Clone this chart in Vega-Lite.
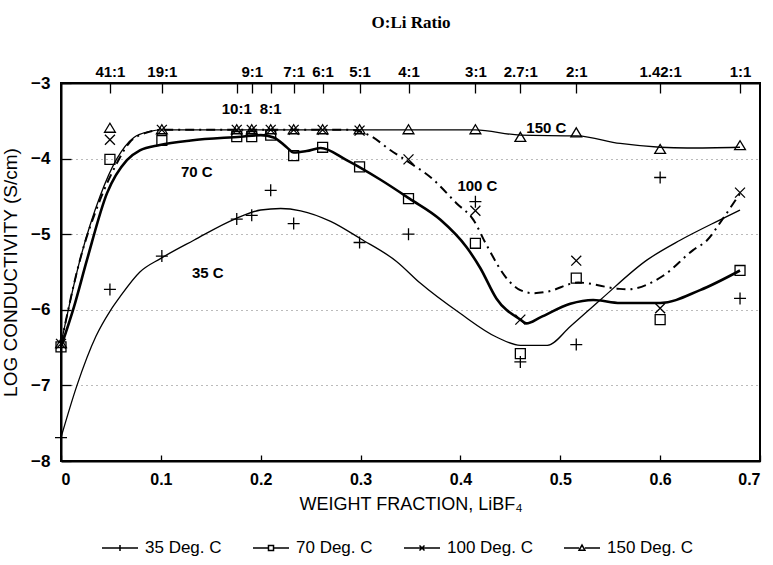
{
  "$schema": "https://vega.github.io/schema/vega-lite/v6.json",
  "width": 699,
  "height": 378,
  "autosize": {"type": "none"},
  "padding": {"left": 61, "top": 83, "right": 13, "bottom": 104},
  "background": "white",
  "view": {"stroke": "black", "strokeWidth": 2},
  "config": {
    "font": "Liberation Sans",
    "axis": {"domainColor": "black", "domainWidth": 2, "tickColor": "black", "tickWidth": 1.3, "labelColor": "black", "titleColor": "black", "labelFont": "Liberation Sans", "titleFont": "Liberation Sans"}
  },
  "datasets": {
    "points": [
      {"series": "35 Deg. C", "w": 0, "logc": -7.69},
      {"series": "35 Deg. C", "w": 0.049, "logc": -5.73},
      {"series": "35 Deg. C", "w": 0.101, "logc": -5.29},
      {"series": "35 Deg. C", "w": 0.176, "logc": -4.8},
      {"series": "35 Deg. C", "w": 0.191, "logc": -4.75},
      {"series": "35 Deg. C", "w": 0.21, "logc": -4.42},
      {"series": "35 Deg. C", "w": 0.233, "logc": -4.86},
      {"series": "35 Deg. C", "w": 0.299, "logc": -5.11},
      {"series": "35 Deg. C", "w": 0.348, "logc": -5.0},
      {"series": "35 Deg. C", "w": 0.415, "logc": -4.57},
      {"series": "35 Deg. C", "w": 0.46, "logc": -6.69},
      {"series": "35 Deg. C", "w": 0.516, "logc": -6.46},
      {"series": "35 Deg. C", "w": 0.6, "logc": -4.25},
      {"series": "35 Deg. C", "w": 0.68, "logc": -5.85},
      {"series": "70 Deg. C", "w": 0, "logc": -6.49},
      {"series": "70 Deg. C", "w": 0.049, "logc": -4.01},
      {"series": "70 Deg. C", "w": 0.101, "logc": -3.76},
      {"series": "70 Deg. C", "w": 0.176, "logc": -3.71},
      {"series": "70 Deg. C", "w": 0.191, "logc": -3.71},
      {"series": "70 Deg. C", "w": 0.21, "logc": -3.69},
      {"series": "70 Deg. C", "w": 0.233, "logc": -3.96},
      {"series": "70 Deg. C", "w": 0.262, "logc": -3.85},
      {"series": "70 Deg. C", "w": 0.299, "logc": -4.11},
      {"series": "70 Deg. C", "w": 0.348, "logc": -4.53},
      {"series": "70 Deg. C", "w": 0.415, "logc": -5.12},
      {"series": "70 Deg. C", "w": 0.46, "logc": -6.58},
      {"series": "70 Deg. C", "w": 0.516, "logc": -5.58},
      {"series": "70 Deg. C", "w": 0.6, "logc": -6.13},
      {"series": "70 Deg. C", "w": 0.68, "logc": -5.48},
      {"series": "100 Deg. C", "w": 0, "logc": -6.45},
      {"series": "100 Deg. C", "w": 0.049, "logc": -3.75},
      {"series": "100 Deg. C", "w": 0.101, "logc": -3.62},
      {"series": "100 Deg. C", "w": 0.176, "logc": -3.62},
      {"series": "100 Deg. C", "w": 0.191, "logc": -3.62},
      {"series": "100 Deg. C", "w": 0.21, "logc": -3.62},
      {"series": "100 Deg. C", "w": 0.233, "logc": -3.62},
      {"series": "100 Deg. C", "w": 0.262, "logc": -3.62},
      {"series": "100 Deg. C", "w": 0.299, "logc": -3.63},
      {"series": "100 Deg. C", "w": 0.348, "logc": -4.01},
      {"series": "100 Deg. C", "w": 0.415, "logc": -4.69},
      {"series": "100 Deg. C", "w": 0.46, "logc": -6.13},
      {"series": "100 Deg. C", "w": 0.516, "logc": -5.35},
      {"series": "100 Deg. C", "w": 0.6, "logc": -5.98},
      {"series": "100 Deg. C", "w": 0.68, "logc": -4.45},
      {"series": "150 Deg. C", "w": 0, "logc": -6.45},
      {"series": "150 Deg. C", "w": 0.049, "logc": -3.6},
      {"series": "150 Deg. C", "w": 0.101, "logc": -3.62},
      {"series": "150 Deg. C", "w": 0.176, "logc": -3.62},
      {"series": "150 Deg. C", "w": 0.191, "logc": -3.62},
      {"series": "150 Deg. C", "w": 0.21, "logc": -3.62},
      {"series": "150 Deg. C", "w": 0.233, "logc": -3.62},
      {"series": "150 Deg. C", "w": 0.262, "logc": -3.62},
      {"series": "150 Deg. C", "w": 0.299, "logc": -3.62},
      {"series": "150 Deg. C", "w": 0.348, "logc": -3.62},
      {"series": "150 Deg. C", "w": 0.415, "logc": -3.62},
      {"series": "150 Deg. C", "w": 0.46, "logc": -3.72},
      {"series": "150 Deg. C", "w": 0.516, "logc": -3.66},
      {"series": "150 Deg. C", "w": 0.6, "logc": -3.88},
      {"series": "150 Deg. C", "w": 0.68, "logc": -3.83}
    ],
    "curves": [
      {"series": "35 Deg. C", "w": 0, "logc": -7.69},
      {"series": "35 Deg. C", "w": 0.016, "logc": -7.0},
      {"series": "35 Deg. C", "w": 0.035, "logc": -6.35},
      {"series": "35 Deg. C", "w": 0.049, "logc": -6.02},
      {"series": "35 Deg. C", "w": 0.059, "logc": -5.83},
      {"series": "35 Deg. C", "w": 0.079, "logc": -5.5},
      {"series": "35 Deg. C", "w": 0.1, "logc": -5.32},
      {"series": "35 Deg. C", "w": 0.133, "logc": -5.08},
      {"series": "35 Deg. C", "w": 0.174, "logc": -4.8},
      {"series": "35 Deg. C", "w": 0.2, "logc": -4.68},
      {"series": "35 Deg. C", "w": 0.22, "logc": -4.66},
      {"series": "35 Deg. C", "w": 0.24, "logc": -4.69},
      {"series": "35 Deg. C", "w": 0.27, "logc": -4.83},
      {"series": "35 Deg. C", "w": 0.3, "logc": -5.06},
      {"series": "35 Deg. C", "w": 0.336, "logc": -5.36},
      {"series": "35 Deg. C", "w": 0.36, "logc": -5.65},
      {"series": "35 Deg. C", "w": 0.4, "logc": -6.05},
      {"series": "35 Deg. C", "w": 0.436, "logc": -6.36},
      {"series": "35 Deg. C", "w": 0.46, "logc": -6.47},
      {"series": "35 Deg. C", "w": 0.487, "logc": -6.47},
      {"series": "35 Deg. C", "w": 0.51, "logc": -6.22},
      {"series": "35 Deg. C", "w": 0.54, "logc": -5.87},
      {"series": "35 Deg. C", "w": 0.587, "logc": -5.34},
      {"series": "35 Deg. C", "w": 0.62, "logc": -5.08},
      {"series": "35 Deg. C", "w": 0.66, "logc": -4.81},
      {"series": "35 Deg. C", "w": 0.68, "logc": -4.68},
      {"series": "70 Deg. C", "w": 0, "logc": -6.49},
      {"series": "70 Deg. C", "w": 0.013, "logc": -5.96},
      {"series": "70 Deg. C", "w": 0.026, "logc": -5.34},
      {"series": "70 Deg. C", "w": 0.046, "logc": -4.46},
      {"series": "70 Deg. C", "w": 0.066, "logc": -4.02},
      {"series": "70 Deg. C", "w": 0.079, "logc": -3.89},
      {"series": "70 Deg. C", "w": 0.099, "logc": -3.82},
      {"series": "70 Deg. C", "w": 0.13, "logc": -3.76},
      {"series": "70 Deg. C", "w": 0.18, "logc": -3.71},
      {"series": "70 Deg. C", "w": 0.2, "logc": -3.69},
      {"series": "70 Deg. C", "w": 0.213, "logc": -3.72},
      {"series": "70 Deg. C", "w": 0.226, "logc": -3.85},
      {"series": "70 Deg. C", "w": 0.233, "logc": -3.92},
      {"series": "70 Deg. C", "w": 0.246, "logc": -3.9},
      {"series": "70 Deg. C", "w": 0.26, "logc": -3.86},
      {"series": "70 Deg. C", "w": 0.286, "logc": -4.02},
      {"series": "70 Deg. C", "w": 0.32, "logc": -4.28},
      {"series": "70 Deg. C", "w": 0.349, "logc": -4.53},
      {"series": "70 Deg. C", "w": 0.38, "logc": -4.81},
      {"series": "70 Deg. C", "w": 0.406, "logc": -5.17},
      {"series": "70 Deg. C", "w": 0.42, "logc": -5.45},
      {"series": "70 Deg. C", "w": 0.436, "logc": -5.85},
      {"series": "70 Deg. C", "w": 0.46, "logc": -6.13},
      {"series": "70 Deg. C", "w": 0.466, "logc": -6.18},
      {"series": "70 Deg. C", "w": 0.48, "logc": -6.1},
      {"series": "70 Deg. C", "w": 0.51, "logc": -5.92},
      {"series": "70 Deg. C", "w": 0.533, "logc": -5.87},
      {"series": "70 Deg. C", "w": 0.56, "logc": -5.91},
      {"series": "70 Deg. C", "w": 0.6, "logc": -5.91},
      {"series": "70 Deg. C", "w": 0.64, "logc": -5.74},
      {"series": "70 Deg. C", "w": 0.68, "logc": -5.48},
      {"series": "100 Deg. C", "w": 0, "logc": -6.45},
      {"series": "100 Deg. C", "w": 0.019, "logc": -5.34},
      {"series": "100 Deg. C", "w": 0.039, "logc": -4.55},
      {"series": "100 Deg. C", "w": 0.056, "logc": -4.06},
      {"series": "100 Deg. C", "w": 0.069, "logc": -3.78},
      {"series": "100 Deg. C", "w": 0.085, "logc": -3.66},
      {"series": "100 Deg. C", "w": 0.1, "logc": -3.62},
      {"series": "100 Deg. C", "w": 0.2, "logc": -3.62},
      {"series": "100 Deg. C", "w": 0.29, "logc": -3.62},
      {"series": "100 Deg. C", "w": 0.31, "logc": -3.7},
      {"series": "100 Deg. C", "w": 0.33, "logc": -3.89},
      {"series": "100 Deg. C", "w": 0.344, "logc": -4.01},
      {"series": "100 Deg. C", "w": 0.373, "logc": -4.28},
      {"series": "100 Deg. C", "w": 0.396, "logc": -4.59},
      {"series": "100 Deg. C", "w": 0.413, "logc": -4.81},
      {"series": "100 Deg. C", "w": 0.426, "logc": -5.14},
      {"series": "100 Deg. C", "w": 0.448, "logc": -5.61},
      {"series": "100 Deg. C", "w": 0.46, "logc": -5.74},
      {"series": "100 Deg. C", "w": 0.473, "logc": -5.78},
      {"series": "100 Deg. C", "w": 0.487, "logc": -5.76},
      {"series": "100 Deg. C", "w": 0.518, "logc": -5.64},
      {"series": "100 Deg. C", "w": 0.557, "logc": -5.72},
      {"series": "100 Deg. C", "w": 0.567, "logc": -5.73},
      {"series": "100 Deg. C", "w": 0.603, "logc": -5.55},
      {"series": "100 Deg. C", "w": 0.633, "logc": -5.21},
      {"series": "100 Deg. C", "w": 0.647, "logc": -5.08},
      {"series": "100 Deg. C", "w": 0.662, "logc": -4.81},
      {"series": "100 Deg. C", "w": 0.68, "logc": -4.46},
      {"series": "150 Deg. C", "w": 0, "logc": -6.45},
      {"series": "150 Deg. C", "w": 0.019, "logc": -5.34},
      {"series": "150 Deg. C", "w": 0.039, "logc": -4.5},
      {"series": "150 Deg. C", "w": 0.056, "logc": -4.0},
      {"series": "150 Deg. C", "w": 0.073, "logc": -3.72},
      {"series": "150 Deg. C", "w": 0.089, "logc": -3.64},
      {"series": "150 Deg. C", "w": 0.1, "logc": -3.62},
      {"series": "150 Deg. C", "w": 0.3, "logc": -3.62},
      {"series": "150 Deg. C", "w": 0.415, "logc": -3.62},
      {"series": "150 Deg. C", "w": 0.46, "logc": -3.69},
      {"series": "150 Deg. C", "w": 0.517, "logc": -3.7},
      {"series": "150 Deg. C", "w": 0.56, "logc": -3.8},
      {"series": "150 Deg. C", "w": 0.6, "logc": -3.85},
      {"series": "150 Deg. C", "w": 0.627, "logc": -3.86},
      {"series": "150 Deg. C", "w": 0.68, "logc": -3.85}
    ],
    "labels": [
      {"label": "70 C", "w": 0.136, "logc": -4.18},
      {"label": "35 C", "w": 0.147, "logc": -5.51},
      {"label": "100 C", "w": 0.417, "logc": -4.36},
      {"label": "150 C", "w": 0.486, "logc": -3.6},
      {"label": "10:1", "w": 0.176, "logc": -3.34},
      {"label": "8:1", "w": 0.21, "logc": -3.34}
    ],
    "ratios": [
      {"ratio": "41:1", "w": 0.049},
      {"ratio": "19:1", "w": 0.101},
      {"ratio": "10:1", "w": 0.176},
      {"ratio": "9:1", "w": 0.191},
      {"ratio": "8:1", "w": 0.21},
      {"ratio": "7:1", "w": 0.233},
      {"ratio": "6:1", "w": 0.262},
      {"ratio": "5:1", "w": 0.299},
      {"ratio": "4:1", "w": 0.348},
      {"ratio": "3:1", "w": 0.415},
      {"ratio": "2.7:1", "w": 0.46},
      {"ratio": "2:1", "w": 0.516},
      {"ratio": "1.42:1", "w": 0.6},
      {"ratio": "1:1", "w": 0.68}
    ]
  },
  "layer": [
    {
      "data": {"name": "curves"},
      "transform": [{"filter": "datum.series === '35 Deg. C'"}],
      "mark": {"type": "line", "interpolate": "monotone", "color": "black", "strokeWidth": 1.3},
      "encoding": {
        "x": {
          "field": "w", "type": "quantitative",
          "scale": {"domain": [0, 0.7], "nice": false, "zero": false},
          "axis": {"orient": "bottom", "values": [0, 0.1, 0.2, 0.3, 0.4, 0.5, 0.6, 0.7], "format": "~g", "tickSize": -6, "labelPadding": 16, "labelFontSize": 16, "labelFontWeight": "bold", "title": "WEIGHT FRACTION, LiBF₄", "titleFontSize": 18, "titleFontWeight": "normal", "titlePadding": 8, "grid": false}
        },
        "y": {
          "field": "logc", "type": "quantitative",
          "scale": {"domain": [-8, -3], "nice": false, "zero": false},
          "axis": {"values": [-8, -7, -6, -5, -4, -3], "format": "d", "tickSize": -10, "labelPadding": 21, "labelFontSize": 17, "labelFontWeight": "bold", "title": "LOG CONDUCTIVITY (S/cm)", "titleFontSize": 19, "titleFontWeight": "normal", "titlePadding": 10, "grid": true, "gridDash": [1, 4], "gridColor": "#777", "gridWidth": 1}
        }
      }
    },
    {
      "data": {"name": "curves"},
      "transform": [{"filter": "datum.series === '70 Deg. C'"}],
      "mark": {"type": "line", "interpolate": "monotone", "color": "black", "strokeWidth": 2.6},
      "encoding": {
        "x": {"field": "w", "type": "quantitative", "axis": null},
        "y": {"field": "logc", "type": "quantitative"}
      }
    },
    {
      "data": {"name": "curves"},
      "transform": [{"filter": "datum.series === '100 Deg. C'"}],
      "mark": {"type": "line", "interpolate": "monotone", "color": "black", "strokeWidth": 2, "strokeDash": [9, 5, 2, 5]},
      "encoding": {
        "x": {"field": "w", "type": "quantitative", "axis": null},
        "y": {"field": "logc", "type": "quantitative"}
      }
    },
    {
      "data": {"name": "curves"},
      "transform": [{"filter": "datum.series === '150 Deg. C'"}],
      "mark": {"type": "line", "interpolate": "monotone", "color": "black", "strokeWidth": 1.3},
      "encoding": {
        "x": {"field": "w", "type": "quantitative", "axis": null},
        "y": {"field": "logc", "type": "quantitative"}
      }
    },
    {
      "data": {"name": "points"},
      "mark": {"type": "point", "filled": false, "color": "black", "strokeWidth": 1.3, "size": 144, "opacity": 1},
      "encoding": {
        "x": {"field": "w", "type": "quantitative", "axis": null},
        "y": {"field": "logc", "type": "quantitative"},
        "shape": {
          "field": "series", "type": "nominal",
          "scale": {"domain": ["35 Deg. C", "70 Deg. C", "100 Deg. C", "150 Deg. C"], "range": ["M-1,0H1M0,-1V1", "M-0.83,-0.83H0.83V0.83H-0.83Z", "M-0.83,-0.83L0.83,0.83M-0.83,0.83L0.83,-0.83", "M-0.9,0.65L0,-0.85L0.9,0.65Z"]},
          "legend": null
        }
      }
    },
    {
      "data": {"name": "points"},
      "mark": {"type": "point", "filled": false, "color": "black", "strokeWidth": 1.3, "size": 144, "opacity": 0},
      "encoding": {
        "x": {"field": "w", "type": "quantitative", "axis": null},
        "y": {"field": "logc", "type": "quantitative"},
        "shape": {
          "field": "series", "type": "nominal",
          "scale": {"domain": ["35 Deg. C", "70 Deg. C", "100 Deg. C", "150 Deg. C"], "range": ["M-1,0H1M0,-0.17V0.17", "M-1,0H-0.14M0.14,0H1M-0.14,-0.14H0.14V0.14H-0.14Z", "M-1,0H1M-0.14,-0.14L0.14,0.14M-0.14,0.14L0.14,-0.14", "M-1,0H-0.16M0.16,0H1M-0.16,0.12L0,-0.16L0.16,0.12Z"]},
          "legend": {
            "title": null, "orient": "none", "legendX": 40, "legendY": 446, "direction": "horizontal",
            "padding": 0, "labelFontSize": 17, "labelFont": "Liberation Sans", "labelColor": "black", "labelOffset": 6,
            "symbolSize": 1296, "symbolStrokeWidth": 1.5, "symbolStrokeColor": "black", "symbolFillColor": "transparent", "symbolOpacity": 1,
            "columnPadding": 28
          }
        }
      }
    },
    {
      "data": {"name": "labels"},
      "mark": {"type": "text", "font": "Liberation Sans", "fontSize": 15, "fontWeight": "bold", "color": "black", "align": "center", "baseline": "middle"},
      "encoding": {
        "x": {"field": "w", "type": "quantitative", "axis": null},
        "y": {"field": "logc", "type": "quantitative"},
        "text": {"field": "label"}
      }
    },
    {
      "data": {"name": "ratios"},
      "mark": {"type": "point", "opacity": 0},
      "encoding": {
        "x": {
          "field": "w", "type": "quantitative",
          "axis": {
            "orient": "top",
            "values": [0.049, 0.101, 0.176, 0.191, 0.21, 0.233, 0.262, 0.299, 0.348, 0.415, 0.46, 0.516, 0.6, 0.68],
            "labelExpr": "['41:1','19:1','','9:1','','7:1','6:1','5:1','4:1','3:1','2.7:1','2:1','1.42:1','1:1'][indexof([0.049, 0.101, 0.176, 0.191, 0.21, 0.233, 0.262, 0.299, 0.348, 0.415, 0.46, 0.516, 0.6, 0.68], datum.value)]",
            "tickSize": -10, "labelPadding": 14, "labelFontSize": 15, "labelFontWeight": "bold", "labelOverlap": false,
            "title": "O:Li Ratio", "titleFont": "Liberation Serif", "titleFontSize": 17, "titleFontWeight": "bold", "titlePadding": 33, "grid": false
          }
        }
      }
    }
  ],
  "resolve": {"axis": {"x": "independent"}, "scale": {"shape": "independent"}}
}
